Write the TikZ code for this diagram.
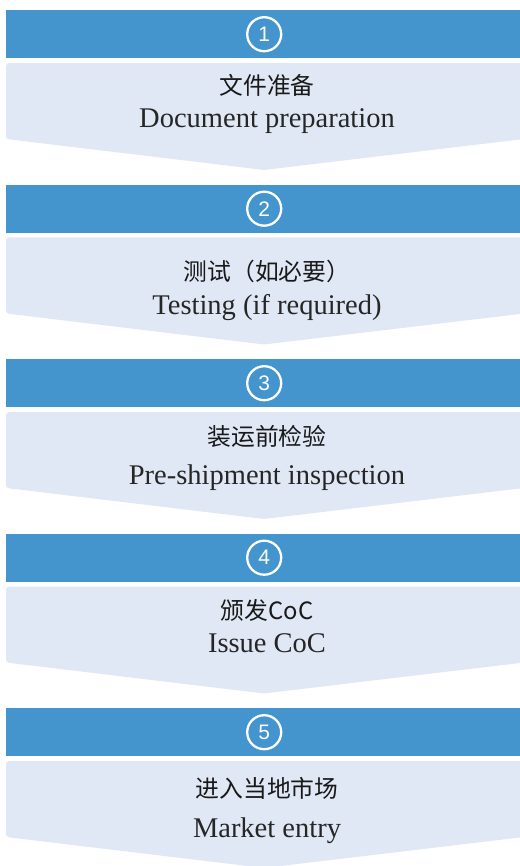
\documentclass[tikz,border=0pt]{standalone}
\usepackage{fontspec}
\setmainfont{Liberation Serif}
\newfontfamily\zhfont{Noto Sans CJK SC}
\newfontfamily\numfont{Liberation Sans}
\usetikzlibrary{positioning}
\definecolor{barblue}{HTML}{4494CE}
\definecolor{boxblue}{HTML}{E1E8F5}
\tikzset{
  bar/.style={ % blue header strip of a step
    rectangle, fill=barblue, minimum width=518pt,
    minimum height=48pt, inner sep=0pt
  },
  stepnum/.style={ % white ring holding the step number
    circle, draw=white, line width=2.3pt, minimum size=34pt,
    inner sep=0pt, text=white, font=\numfont\fontsize{21}{21}\selectfont
  },
  chevron/.style={ % light arrow-shaped box below the strip
    fill=boxblue, rounded corners=3pt
  },
  zh/.style={
    anchor=base, inner sep=0pt, text=black!90,
    font=\zhfont\fontsize{23.8}{26}\selectfont
  },
  en/.style={
    anchor=base, inner sep=0pt, text=black!85,
    font=\fontsize{28.5}{30}\selectfont
  }
}

\begin{document}
\begin{tikzpicture}[x=1pt, y=-1pt]
  \useasboundingbox (0,0) rectangle (519,866);

  \foreach \i in {1,...,5}{
    \pgfmathsetmacro\ytop{10+(\i-1)*174.5}
    \fill[chevron] (6,\ytop+53) -- (524,\ytop+53) -- (524,\ytop+129)
      -- (264,\ytop+160) -- (6,\ytop+129) -- cycle;
    \node[bar, anchor=north west] (bar\i) at (6,\ytop) {};
    \node[stepnum] (num\i) at ([xshift=-1pt]bar\i.center) {\i};
  }

  \node[zh] (zh1) at (267,95)  {文件准备};
  \node[en] (en1) at (267,128) {Document preparation};
  \node[zh] (zh2) at (267,280) {测试（如必要）};
  \node[en] (en2) at (267,314) {Testing (if required)};
  \node[zh] (zh3) at (267,445) {装运前检验};
  \node[en] (en3) at (267,484) {Pre-shipment inspection};
  \node[zh] (zh4) at (267,619) {颁发CoC};
  \node[en] (en4) at (267,652) {Issue CoC};
  \node[zh] (zh5) at (267,797) {进入当地市场};
  \node[en] (en5) at (267,837) {Market entry};
\end{tikzpicture}
\end{document}
